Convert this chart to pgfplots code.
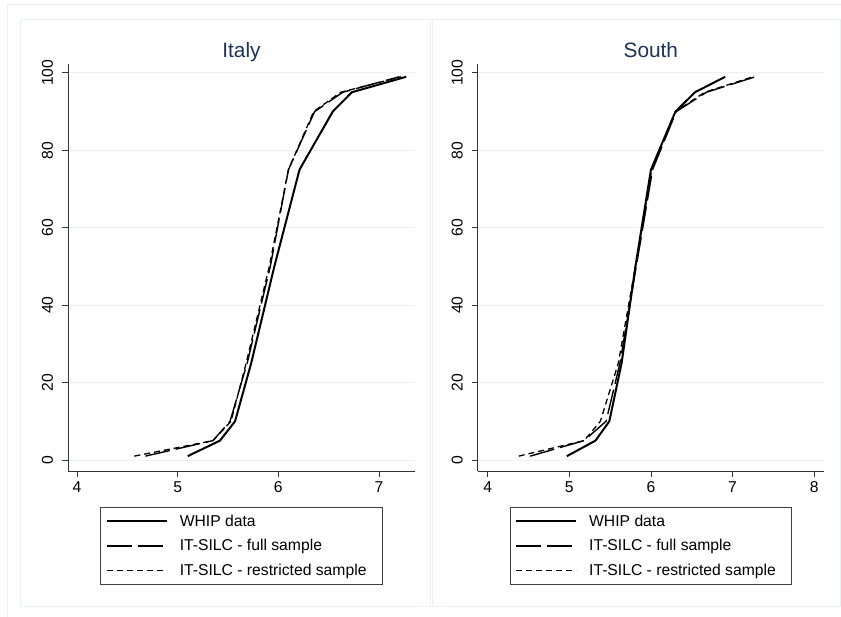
\documentclass[border=0pt]{standalone}
\usepackage{fontspec}
\setmainfont{Liberation Sans}
\usepackage{pgfplots}
\pgfplotsset{compat=1.18}
\definecolor{gridc}{RGB}{234,242,243}
\definecolor{titlec}{RGB}{28,50,88}
\begin{document}
\begin{tikzpicture}[x=1bp,y=1bp]
\useasboundingbox (0,0) rectangle (841,617);
\fill[white] (0,0) rectangle (841,617);
\draw[gridc, line width=1bp] (7,0) -- (7,612) -- (841,612);
\draw[gridc, line width=1bp] (20.7,10) rectangle (430,597.7);
\draw[gridc, line width=1bp] (432,10) rectangle (840.5,597.7);
\pgfplotsset{
  panel/.style={
    scale only axis, height=407bp,
    anchor=south west,
    ymin=-2.84, ymax=102.3,
    axis x line*=bottom, axis y line*=left,
    axis line style={-, black!80, line width=0.8bp},
    tick align=outside, major tick length=6bp,
    tick style={black!80, line width=0.8bp},
    ytick={0,20,...,100}, ymajorgrids,
    major grid style={gridc, line width=1bp},
    /pgf/number format/assume math mode=true,
    tick label style={font=\fontsize{15.7bp}{18bp}\selectfont, black},
    yticklabel style={rotate=90, anchor=south, inner sep=0pt},
    xticklabel style={anchor=north, inner sep=0pt},
    xticklabel shift=4.7bp, yticklabel shift=8.7bp,
    every axis title/.style={at={(0.5,1)}, anchor=base, yshift=6.5bp,
      font=\fontsize{20.8bp}{24bp}\selectfont, text=titlec},
    legend cell align=left,
    legend image code/.code={\draw[##1] (0bp,0bp) -- (60bp,0bp);},
    legend style={at={(0.5,-0.0877)}, anchor=north,
      draw=black!75, line width=0.8bp,
      font=\fontsize{15.7bp}{18bp}\selectfont,
      inner xsep=5bp, inner ysep=6.5bp,
      row sep=9bp, column sep=11bp,
      nodes={inner sep=1bp, text height=11.5bp, text depth=2bp}},
  },
  whip/.style={black, line width=2bp, line join=round},
  full/.style={black, line width=1.4bp, line join=round, dash pattern=on 25bp off 6bp},
  restr/.style={black, line width=1.3bp, line join=round, dash pattern=on 6bp off 4bp},
}
% Italy
\begin{axis}[panel, at={(68bp,146bp)}, width=347bp,
  xmin=3.911, xmax=7.357, xtick={4,5,6,7}, title={Italy}]
\addplot[whip] coordinates {(5.10,1) (5.42,5) (5.57,10) (5.73,25) (5.96,50) (6.21,75) (6.54,90) (6.73,95) (7.27,99)};
\addlegendentry{WHIP data}
\addplot[full] coordinates {(4.68,1) (5.35,5) (5.52,10) (5.69,25) (5.92,50) (6.10,75) (6.36,90) (6.64,95) (7.20,99)};
\addlegendentry{IT-SILC - full sample}
\addplot[restr] coordinates {(4.57,1) (5.35,5) (5.53,10) (5.68,25) (5.91,50) (6.10,75) (6.35,90) (6.62,95) (7.22,99)};
\addlegendentry{IT-SILC - restricted sample\hspace*{9.7bp}}
\end{axis}
% South
\begin{axis}[panel, at={(477.7bp,146bp)}, width=346.3bp,
  xmin=3.877, xmax=8.121, xtick={4,5,6,7,8}, title={South}]
\addplot[whip] coordinates {(4.97,1) (5.32,5) (5.49,10) (5.64,25) (5.81,50) (6.00,75) (6.30,90) (6.54,95) (6.91,99)};
\addlegendentry{WHIP data}
\addplot[full] coordinates {(4.52,1) (5.18,5) (5.45,10) (5.62,25) (5.82,50) (6.02,75) (6.31,90) (6.68,95) (7.28,99)};
\addlegendentry{IT-SILC - full sample}
\addplot[restr] coordinates {(4.38,1) (5.18,5) (5.38,10) (5.60,25) (5.81,50) (6.01,75) (6.30,90) (6.66,95) (7.25,99)};
\addlegendentry{IT-SILC - restricted sample\hspace*{9.7bp}}
\end{axis}
\end{tikzpicture}
\end{document}
